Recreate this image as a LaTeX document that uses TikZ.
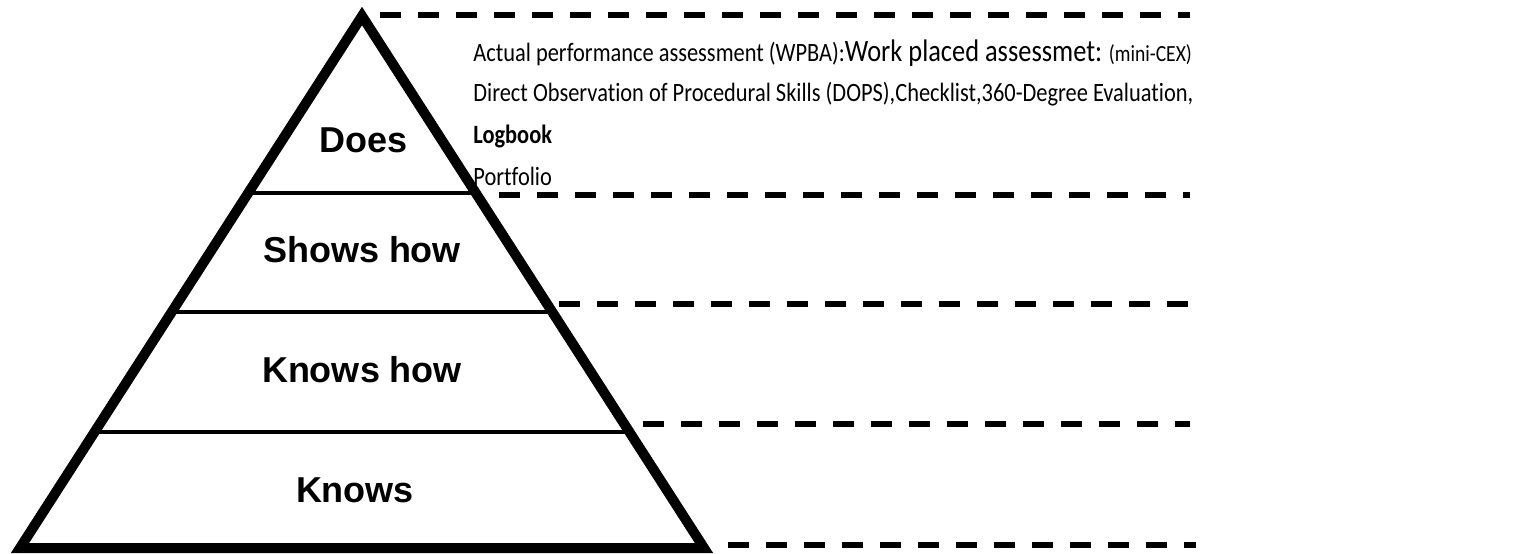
\documentclass[tikz,border=0pt]{standalone}
\usepackage{fontspec}
\setmainfont{Carlito}[Ligatures=NoCommon]
\newfontfamily\levelfont{Liberation Sans}
\usetikzlibrary{calc}
\tikzset{
	level/.style={font=\levelfont\bfseries\fontsize{18}{21}\selectfont},
	tier/.style={line width=1.75pt},
	guide/.style={line width=2.8pt, dash pattern=on 10.5pt off 8.5pt},
	info/.style={anchor=base west, inner sep=0pt, font=\fontsize{11.2}{13}\selectfont},
}
\newcommand{\tall}[1]{\scalebox{1}[1.18]{#1}}
\begin{document}
\begin{tikzpicture}[x=0.5pt, y=-0.5pt]
	\useasboundingbox (0,0) rectangle (1522,553);
	% Pyramid
	\coordinate (apex) at (362,16);
	\coordinate (bl) at (20,548);
	\coordinate (br) at (704,548);
	\draw[tier] ($(apex)!0.333!(bl)$) -- ($(apex)!0.333!(br)$);
	\draw[tier] ($(apex)!0.556!(bl)$) -- ($(apex)!0.556!(br)$);
	\draw[tier] ($(apex)!0.782!(bl)$) -- ($(apex)!0.782!(br)$);
	\draw[line width=5pt, miter limit=20] (apex) -- (br) -- (bl) -- cycle;
	
	% Levels
	\node[level] (does) at (364,140) {Does};
	\node[level] (shows) at (362,250) {Shows how};
	\node[level] (knowshow) at (362,370) {Knows how};
	\node[level] (knows) at (355,490) {Knows};
	
	% Dashed guides
	\coordinate (g0a) at (380,15);
	\coordinate (g0b) at (1190,15);
	\coordinate (g1a) at (499,195);
	\coordinate (g1b) at (1190,195);
	\coordinate (g2a) at (559,304);
	\coordinate (g2b) at (1196,304);
	\coordinate (g3a) at (643,424);
	\coordinate (g3b) at (1190,424);
	\coordinate (g4a) at (728,545);
	\coordinate (g4b) at (1196,545);
	\draw[guide] (g0a) -- (g0b);
	\draw[guide] (g1a) -- (g1b);
	\draw[guide] (g2a) -- (g2b);
	\draw[guide] (g3a) -- (g3b);
	\draw[guide] (g4a) -- (g4b);
	
	% Assessment text
	\node[info] (line1) at (473,61) {\tall{Actual performance assessment (WPBA):{\fontsize{13.2}{15}\selectfont Work placed assessmet:} {\fontsize{9.8}{11}\selectfont (mini-CEX)}}};
	\node[info] (line2) at (473,101) {\tall{Direct Observation of Procedural Skills (DOPS),Checklist,360-Degree Evaluation,}};
	\node[info] (line3) at (473,143) {\tall{\bfseries Logbook}};
	\node[info] (line4) at (473,185) {\tall{Portfolio}};
\end{tikzpicture}
\end{document}
